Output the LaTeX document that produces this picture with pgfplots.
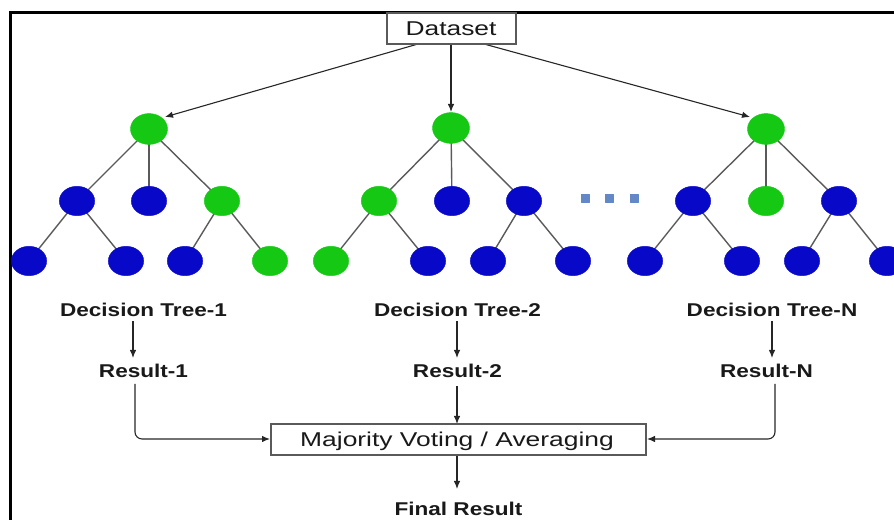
\documentclass[border=0pt]{standalone}
\usepackage{pgfplots}
\pgfplotsset{compat=1.18}
\usetikzlibrary{arrows.meta}
\usepackage{fontspec}
\setmainfont{Liberation Sans}
\newfontfamily\regf{Liberation Sans}[FakeStretch=1.32]
\newfontfamily\boldf{Liberation Sans}[FakeStretch=1.22]
\definecolor{nblue}{RGB}{8,8,200}
\definecolor{ngreen}{RGB}{20,200,20}
\definecolor{edge}{RGB}{90,90,90}
\definecolor{dots}{RGB}{100,135,200}
\definecolor{txt}{RGB}{25,25,25}
\newcommand{\bl}{\boldf\bfseries\fontsize{18.5bp}{20bp}\selectfont}
\newcommand{\rg}{\regf\fontsize{20bp}{22bp}\selectfont}
\begin{document}
\begin{tikzpicture}
\begin{axis}[
  width=894bp, height=520bp, scale only axis,
  xmin=0, xmax=894, ymin=0, ymax=520,
  hide axis,
  every axis plot/.append style={line join=round},
]
\coordinate (ll) at (axis cs:0,0);
\coordinate (ur) at (axis cs:894,520);
% ---- border
\addplot[black, line width=3bp, line join=miter] coordinates {(10.5,-5) (10.5,507.5) (900,507.5)};
% ---- tree edges
\pgfplotsset{tedge/.style={edge, line width=1.4bp}}
\addplot[tedge] coordinates {(149,391) (77,319)};
\addplot[tedge] coordinates {(149,391) (149,319)};
\addplot[tedge] coordinates {(149,391) (222,319)};
\addplot[tedge] coordinates {(77,319) (29,259)};
\addplot[tedge] coordinates {(77,319) (126,259)};
\addplot[tedge] coordinates {(222,319) (185,259)};
\addplot[tedge] coordinates {(222,319) (270,259)};
\addplot[tedge] coordinates {(451,392) (379,319)};
\addplot[tedge] coordinates {(451,392) (452,319)};
\addplot[tedge] coordinates {(451,392) (524,319)};
\addplot[tedge] coordinates {(379,319) (331,259)};
\addplot[tedge] coordinates {(379,319) (428,259)};
\addplot[tedge] coordinates {(524,319) (488,259)};
\addplot[tedge] coordinates {(524,319) (573,259)};
\addplot[tedge] coordinates {(766,391) (693,319)};
\addplot[tedge] coordinates {(766,391) (766,319)};
\addplot[tedge] coordinates {(766,391) (839,319)};
\addplot[tedge] coordinates {(693,319) (645,259)};
\addplot[tedge] coordinates {(693,319) (742,259)};
\addplot[tedge] coordinates {(839,319) (802,259)};
\addplot[tedge] coordinates {(839,319) (887,259)};
% ---- nodes
\addplot[only marks, mark=*, mark size=15.5, color=ngreen, mark options={xscale=1.2, draw=ngreen, fill=ngreen}]
  coordinates {(149,391) (451,392) (766,391)};
\addplot[only marks, mark=*, mark size=14.8, color=ngreen, mark options={xscale=1.2, draw=ngreen, fill=ngreen}]
  coordinates {(222,319) (379,319) (766,319) (270,259) (331,259)};
\addplot[only marks, mark=*, mark size=14.8, color=nblue, mark options={xscale=1.2, draw=nblue, fill=nblue}]
  coordinates {(77,319) (149,319) (29,259) (126,259) (185,259)
               (452,319) (524,319) (428,259) (488,259) (573,259)
               (693,319) (839,319) (645,259) (742,259) (802,259) (887,259)};
% ---- dots
\addplot[only marks, mark=square*, mark size=4, color=dots]
  coordinates {(585,322) (609,322) (634,322)};
% ---- arrows
\pgfplotsset{arr/.style={black!85, line width=1.1bp, -{Latex[length=8bp,width=6.5bp]}}}
\addplot[arr] coordinates {(418,476) (165,403)};
\addplot[arr] coordinates {(451,476) (451,408)};
\addplot[arr] coordinates {(484,476) (750,403)};
\addplot[arr] coordinates {(133,199) (133,162)};
\addplot[arr] coordinates {(457,199) (457,162)};
\addplot[arr] coordinates {(772,199) (772,162)};
\addplot[arr] coordinates {(457,134) (457,96)};
\addplot[arr] coordinates {(457,65) (457,31)};
\addplot[arr, rounded corners=7bp] coordinates {(135,136) (135,81) (270,81)};
\addplot[arr, rounded corners=7bp] coordinates {(775,136) (775,81) (647,81)};
% ---- boxes and text
\node[draw=edge, line width=1.1bp, fill=white, minimum width=129bp, minimum height=31bp, inner sep=0pt] at (axis cs:451.5,491.5) {};
\node[draw=edge, line width=1.1bp, fill=white, minimum width=375bp, minimum height=31bp, inner sep=0pt] at (axis cs:458.5,80.5) {};
\node[anchor=base, inner sep=0pt, text=txt] at (axis cs:451,484) {\rg Dataset};
\node[anchor=base, inner sep=0pt, text=txt] at (axis cs:457,73.3) {\rg Majority Voting / Averaging};
\node[anchor=base, inner sep=0pt, text=txt] at (axis cs:143.5,203) {\bl Decision Tree-1};
\node[anchor=base, inner sep=0pt, text=txt] at (axis cs:457.5,203) {\bl Decision Tree-2};
\node[anchor=base, inner sep=0pt, text=txt] at (axis cs:772,203) {\bl Decision Tree-N};
\node[anchor=base, inner sep=0pt, text=txt] at (axis cs:143.5,142) {\bl Result-1};
\node[anchor=base, inner sep=0pt, text=txt] at (axis cs:457.5,142) {\bl Result-2};
\node[anchor=base, inner sep=0pt, text=txt] at (axis cs:766.5,142) {\bl Result-N};
\node[anchor=base, inner sep=0pt, text=txt] at (axis cs:458.5,4) {\bl Final Result};
\end{axis}
\pgfresetboundingbox
\path[use as bounding box] (ll) rectangle (ur);
\end{tikzpicture}
\end{document}
